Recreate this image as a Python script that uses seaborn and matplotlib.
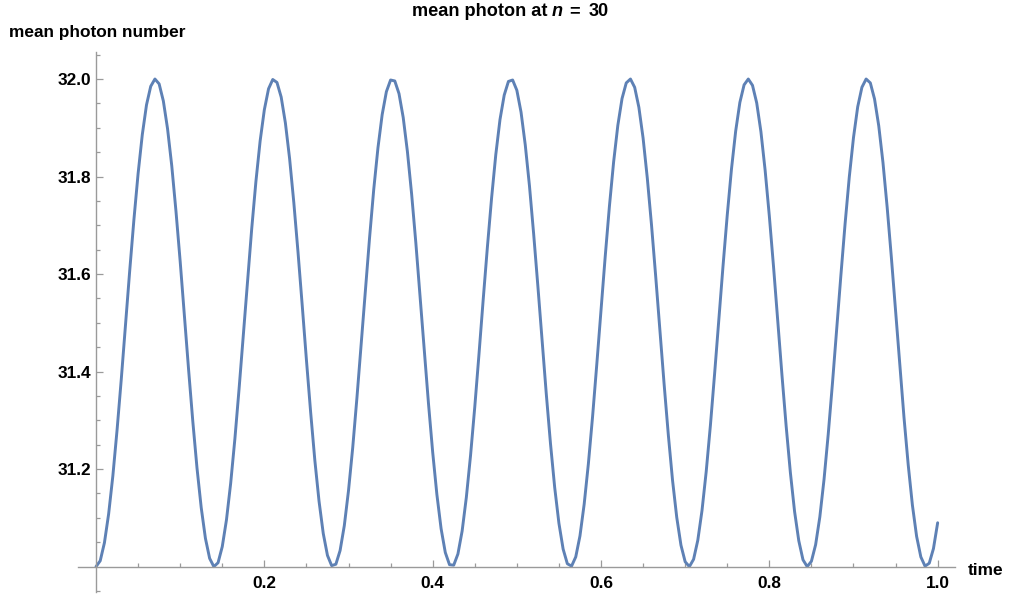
import numpy as np
import matplotlib
matplotlib.use("Agg")
import matplotlib.pyplot as plt
import seaborn as sns

# ---- data ----
time = np.round(np.arange(201) * 0.005, 3)

photon = [
    31.000, 31.012, 31.049, 31.108, 31.186, 31.280, 31.384, 31.495, 31.606, 31.711,
    31.806, 31.886, 31.947, 31.985, 32.000, 31.990, 31.955, 31.898, 31.822, 31.729,
    31.626, 31.515, 31.404, 31.298, 31.202, 31.121, 31.058, 31.017, 31.000, 31.008,
    31.041, 31.096, 31.171, 31.262, 31.365, 31.475, 31.586, 31.693, 31.790, 31.873,
    31.937, 31.980, 31.999, 31.993, 31.963, 31.910, 31.837, 31.747, 31.645, 31.536,
    31.424, 31.317, 31.218, 31.134, 31.068, 31.023, 31.002, 31.005, 31.033, 31.084,
    31.156, 31.244, 31.346, 31.455, 31.566, 31.674, 31.774, 31.859, 31.927, 31.974,
    31.998, 31.996, 31.970, 31.921, 31.851, 31.764, 31.664, 31.555, 31.444, 31.335,
    31.235, 31.148, 31.078, 31.029, 31.004, 31.003, 31.026, 31.073, 31.142, 31.228,
    31.327, 31.435, 31.547, 31.655, 31.756, 31.845, 31.917, 31.967, 31.995, 31.998,
    31.977, 31.932, 31.865, 31.781, 31.682, 31.575, 31.464, 31.354, 31.252, 31.162,
    31.089, 31.036, 31.006, 31.001, 31.020, 31.063, 31.128, 31.211, 31.308, 31.415,
    31.526, 31.636, 31.739, 31.830, 31.905, 31.960, 31.992, 32.000, 31.983, 31.942,
    31.879, 31.797, 31.701, 31.595, 31.484, 31.374, 31.270, 31.177, 31.101, 31.044,
    31.010, 31.000, 31.015, 31.054, 31.115, 31.195, 31.290, 31.396, 31.506, 31.617,
    31.721, 31.815, 31.893, 31.952, 31.988, 32.000, 31.987, 31.951, 31.892, 31.813,
    31.719, 31.615, 31.504, 31.393, 31.288, 31.193, 31.113, 31.053, 31.014, 31.000,
    31.011, 31.045, 31.102, 31.179, 31.272, 31.376, 31.486, 31.597, 31.703, 31.799,
    31.880, 31.943, 31.983, 32.000, 31.992, 31.959, 31.904, 31.829, 31.737, 31.634,
    31.524, 31.413, 31.306, 31.209, 31.126, 31.062, 31.020, 31.001, 31.007, 31.037,
    31.090,
]

x_major = [0.2, 0.4, 0.6, 0.8, 1.0]
x_labels = ["0.2", "0.4", "0.6", "0.8", "1.0"]
y_major = [31.2, 31.4, 31.6, 31.8, 32.0]
y_labels = ["31.2", "31.4", "31.6", "31.8", "32.0"]

title_parts = ["mean photon at", "n", "=", "30"]
ylabel = "mean photon number"
xlabel = "time"

# ---- style ----
sns.set_theme(style="white")
plt.rcParams["font.family"] = ["Liberation Sans", "DejaVu Sans"]

W, H = 1010, 601
fig = plt.figure(figsize=(W / 100, H / 100), dpi=100)
ax = fig.add_axes([78 / W, 1 - 592 / H, (955 - 78) / W, (592 - 52) / H])
ax.set_facecolor("white")

sns.lineplot(x=time, y=photon, ax=ax, color="#5E81B5", linewidth=2.1)
for ln in ax.get_lines():
    ln.set_solid_joinstyle("round")
    ln.set_solid_capstyle("round")

ax.set_xlim(-0.0214, 1.0206)
ax.set_ylim(30.948, 32.0554)
ax.set_xlabel("")
ax.set_ylabel("")

axis_gray = "#9a9a9a"
for s in ["top", "right"]:
    ax.spines[s].set_visible(False)
ax.spines["left"].set_position(("data", 0))
ax.spines["bottom"].set_position(("data", 31.0))
for s in ["left", "bottom"]:
    ax.spines[s].set_color(axis_gray)
    ax.spines[s].set_linewidth(1.0)

x_minor = [round(0.05 * k, 2) for k in range(1, 21) if k % 4]
y_minor = [round(30.95 + 0.05 * k, 2) for k in range(0, 23)]
y_minor = [v for v in y_minor if v not in y_major and v != 31.0]

ax.set_xticks(x_major)
ax.set_xticklabels(x_labels)
ax.set_xticks(x_minor, minor=True)
ax.set_yticks(y_major)
ax.set_yticklabels(y_labels)
ax.set_yticks(y_minor, minor=True)

ax.tick_params(which="both", direction="in", color=axis_gray, width=0.9,
               bottom=True, left=True, top=False, right=False)
ax.tick_params(which="major", length=4.8)
ax.tick_params(which="minor", length=2.9)
ax.tick_params(axis="x", which="major", pad=6.5, labelsize=12.4, labelcolor="black")
ax.tick_params(axis="y", which="major", pad=3.6, labelsize=12.4, labelcolor="black")
for lbl in ax.get_xticklabels() + ax.get_yticklabels():
    lbl.set_fontweight("bold")

# title pieces (Mathematica-style spacing, italic n)
title_x = [411.5, 551.5, 569.0, 589.0]
title_style = ["normal", "italic", "normal", "normal"]
for txt, px, st in zip(title_parts, title_x, title_style):
    fig.text(px / W, 1 - 16 / H, txt, ha="left", va="baseline",
             fontsize=13.1, fontweight="bold", fontstyle=st, color="black")

fig.text(9 / W, 1 - 37.3 / H, ylabel, ha="left", va="baseline",
         fontsize=12.4, fontweight="bold", color="black")
fig.text(968 / W, 1 - 575 / H, xlabel, ha="left", va="baseline",
         fontsize=12.4, fontweight="bold", color="black")

fig.savefig("out.png", dpi=100)
